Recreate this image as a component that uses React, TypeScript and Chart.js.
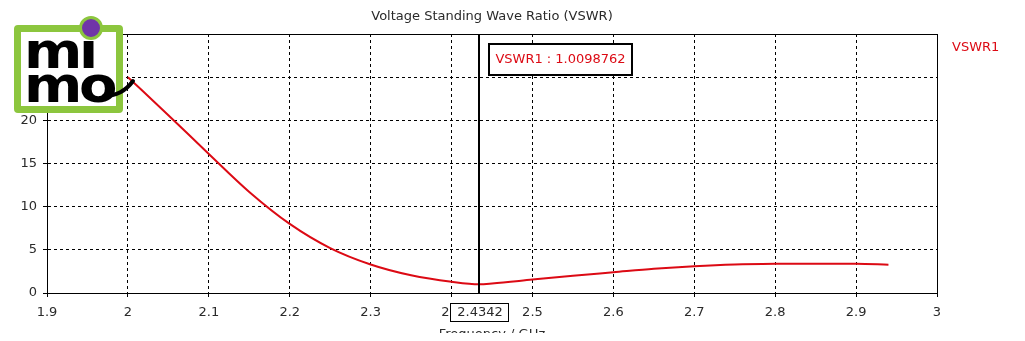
import React, { useEffect, useRef } from "react";
import { Chart, registerables } from "chart.js";

Chart.register(...registerables);

const frequencies = [2.0, 2.05, 2.1, 2.15, 2.2, 2.25, 2.3, 2.35, 2.4, 2.4342, 2.45, 2.5, 2.55, 2.6, 2.65, 2.7, 2.75, 2.8, 2.85, 2.9, 2.94];
const vswrValues = [25.0, 20.6, 16.1, 11.7, 8.0, 5.2, 3.3, 2.05, 1.3, 1.01, 1.1, 1.55, 2.0, 2.4, 2.8, 3.1, 3.3, 3.38, 3.4, 3.38, 3.28];
const xTicks = [1.9, 2.0, 2.1, 2.2, 2.3, 2.4, 2.5, 2.6, 2.7, 2.8, 2.9, 3.0];
const yTicks = [0, 5, 10, 15, 20, 25, 30];
const seriesName = "VSWR1";
const chartTitle = "Voltage Standing Wave Ratio (VSWR)";
const xAxisTitle = "Frequency / GHz";
const markerFreq = 2.4342;
const markerValue = "1.0098762";

const FONT = "DejaVu Sans";
const RED = "#dc0a14";
const TEXT = "#2a2a2a";

export default function App() {
  const ref = useRef<HTMLCanvasElement | null>(null);

  useEffect(() => {
    if (!ref.current) return;
    const overlay = {
      id: "overlay",
      afterDraw(chart: any) {
        const { ctx, chartArea } = chart;
        const xs = chart.scales.x;
        ctx.save();
        ctx.strokeStyle = "#000";
        ctx.lineWidth = 1;
        ctx.setLineDash([]);
        ctx.strokeRect(Math.round(chartArea.left) + 0.5, Math.round(chartArea.top) + 0.5, Math.round(chartArea.right - chartArea.left), Math.round(chartArea.bottom - chartArea.top));
        ctx.fillStyle = TEXT;
        ctx.font = `13px "${FONT}"`;
        ctx.textAlign = "center";
        ctx.textBaseline = "middle";
        const cx = (chartArea.left + chartArea.right) / 2;
        ctx.fillText(chartTitle, cx, 17);
        ctx.fillText(xAxisTitle, cx, 335);
        ctx.fillStyle = RED;
        ctx.textAlign = "left";
        ctx.fillText(seriesName, 952, 48);
        const mx = Math.round(xs.getPixelForValue(markerFreq));
        ctx.strokeStyle = "#000";
        ctx.lineWidth = 2;
        ctx.beginPath();
        ctx.moveTo(mx, chartArea.top);
        ctx.lineTo(mx, chartArea.bottom);
        ctx.stroke();
        const label = `${seriesName} : ${markerValue}`;
        ctx.fillStyle = "#fff";
        ctx.fillRect(mx + 10, 44, 143, 31);
        ctx.strokeRect(mx + 10, 44, 143, 31);
        ctx.fillStyle = RED;
        ctx.textAlign = "center";
        ctx.fillText(label, mx + 10 + 71.5, 60);
        ctx.lineWidth = 1;
        ctx.fillStyle = "#fff";
        ctx.fillRect(mx - 28.5, 303.5, 58, 18);
        ctx.strokeRect(mx - 28.5, 303.5, 58, 18);
        ctx.fillStyle = TEXT;
        ctx.fillText(String(markerFreq), mx + 1, 313);
        ctx.restore();
      },
    };

    const chart = new Chart(ref.current, {
      type: "line",
      data: {
        datasets: [
          {
            label: seriesName,
            data: frequencies.map((f, i) => ({ x: f, y: vswrValues[i] })),
            borderColor: RED,
            borderWidth: 2,
            pointRadius: 0,
            cubicInterpolationMode: "monotone",
            fill: false,
          },
        ],
      },
      options: {
        responsive: false,
        animation: false,
        events: [],
        layout: { padding: { top: 34, right: 88, left: 0, bottom: 0 } },
        plugins: { legend: { display: false }, title: { display: false }, tooltip: { enabled: false } },
        scales: {
          x: {
            type: "linear",
            min: 1.9,
            max: 3.0,
            afterFit: (s: any) => { s.height = 48; },
            afterBuildTicks: (s: any) => { s.ticks = xTicks.map((v) => ({ value: v })); },
            ticks: {
              autoSkip: false,
              maxRotation: 0,
              padding: 8,
              color: TEXT,
              font: { family: FONT, size: 13 },
              callback: (v: any) => String(Number(Number(v).toFixed(1))),
            },
            grid: { color: "#000", lineWidth: 1, tickLength: 4, tickColor: "#000" },
            border: { display: true, color: "#000", width: 1, dash: [3, 3] },
          },
          y: {
            type: "linear",
            min: 0,
            max: 30,
            afterFit: (s: any) => { s.width = 47; },
            afterBuildTicks: (s: any) => { s.ticks = yTicks.map((v) => ({ value: v })); },
            ticks: {
              autoSkip: false,
              padding: 6,
              color: TEXT,
              font: { family: FONT, size: 13 },
            },
            grid: { color: "#000", lineWidth: 1, tickLength: 4, tickColor: "#000" },
            border: { display: true, color: "#000", width: 1, dash: [3, 3] },
          },
        },
      },
      plugins: [overlay],
    } as any);
    return () => chart.destroy();
  }, []);

  return (
    <div style={{ position: "relative", width: 1025, height: 341, margin: -8, background: "#fff", overflow: "hidden" }}>
      <canvas ref={ref} width={1025} height={341} style={{ display: "block" }} />
      <div
        style={{
          position: "absolute",
          left: 14,
          top: 25,
          width: 95,
          height: 74,
          border: "7px solid #8cc63e",
          borderRadius: 4,
          background: "#fff",
        }}
      >
        <div
          style={{
            position: "absolute",
            left: 3,
            top: 2,
            fontFamily: FONT,
            fontWeight: 900,
            fontSize: 50,
            lineHeight: "34px",
            color: "#000",
            letterSpacing: -3,
            transform: "scaleX(1.12)",
            transformOrigin: "left top",
            whiteSpace: "nowrap",
          }}
        >
          <div>mi</div>
          <div>mo</div>
        </div>
        <div
          style={{
            position: "absolute",
            left: 58,
            top: -16,
            width: 18,
            height: 18,
            borderRadius: "50%",
            background: "#7035a8",
            border: "3px solid #8cc63e",
          }}
        />
      </div>
      <svg width={1025} height={341} style={{ position: "absolute", left: 0, top: 0, pointerEvents: "none" }}>
        <path d="M 104 96 Q 122 96 133 81" stroke="#000" strokeWidth={4} fill="none" strokeLinecap="round" />
      </svg>
    </div>
  );
}
